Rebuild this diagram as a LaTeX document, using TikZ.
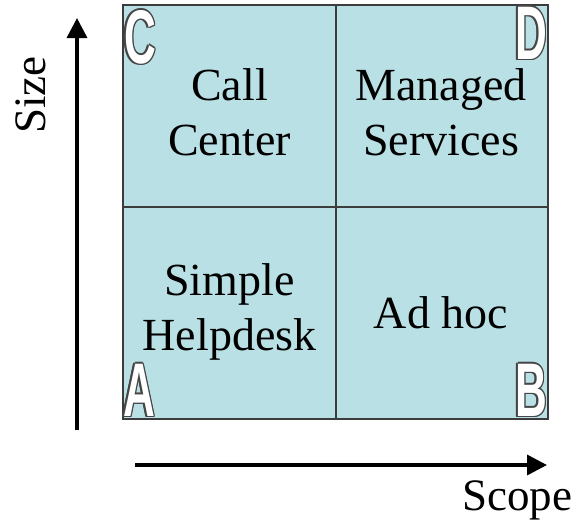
\documentclass[tikz,border=0pt]{standalone}
\usepackage{fontspec}
\setmainfont{Liberation Serif}
\newfontfamily\lettfont{Liberation Sans}
\usetikzlibrary{arrows.meta,calc}
\definecolor{cellfill}{RGB}{185,224,228}
\definecolor{edgegray}{RGB}{60,60,60}
\definecolor{outl}{RGB}{70,70,70}
\tikzset{
  celltext/.style={font=\fontsize{46}{55}\selectfont, align=center, inner sep=0pt},
  axislabel/.style={font=\fontsize{45}{54}\selectfont, inner sep=0pt},
  axisarrow/.style={line width=3.5pt, -{Triangle[width=20pt,length=20pt]}},
  letterbase/.style={font=\lettfont\bfseries\fontsize{76}{76}\selectfont, xscale=0.58, inner sep=0pt},
  lettershadow/.style={letterbase, text=outl},
  letterfront/.style={letterbase, text=white}
}
\newcommand{\cornerletter}[3]{%
  \foreach \dx/\dy in {-1.6/0,1.6/0,0/-1.6,0/1.6,-1.1/-1.1,1.1/1.1,-1.1/1.1,1.1/-1.1}{
    \node[lettershadow] (#1s\dx\dy) at ($(#2)+(\dx pt,\dy pt)$) {#3};
  }
  \node[letterfront] (#1) at (#2) {#3};
}
\begin{document}
\begin{tikzpicture}[x=1pt,y=-1pt]
\useasboundingbox (0,0) rectangle (580,525);
% grid
\draw[edgegray, line width=1.3pt, fill=cellfill] (123,5) rectangle (548,419);
\coordinate (mt) at (336,5);
\coordinate (mb) at (336,419);
\coordinate (ml) at (123,207);
\coordinate (mr) at (548,207);
\draw[edgegray, line width=1.3pt] (mt) -- (mb);
\draw[edgegray, line width=1.3pt] (ml) -- (mr);
% cell texts
\node[celltext] (cc) at (229.5,112) {Call\\Center};
\node[celltext] (ms) at (441,112) {Managed\\Services};
\node[celltext] (sh) at (229.5,312) {Simple\\Helpdesk};
\node[celltext] (ah) at (441,313) {Ad hoc};
% axes
\coordinate (ys) at (77,430);
\coordinate (ye) at (77,18);
\coordinate (xs) at (135,465);
\coordinate (xe) at (547,465);
\draw[axisarrow] (ys) -- (ye);
\draw[axisarrow] (xs) -- (xe);
\node[axislabel, rotate=90, anchor=base] (size) at (45,95) {Size};
\node[axislabel, anchor=base] (scope) at (517,510) {Scope};
% corner letters
\coordinate (pc) at (140,37);
\coordinate (pd) at (531,33);
\coordinate (pa) at (139,390);
\coordinate (pb) at (531,390);
\cornerletter{lc}{pc}{C}
\cornerletter{ld}{pd}{D}
\cornerletter{la}{pa}{A}
\cornerletter{lb}{pb}{B}
\end{tikzpicture}
\end{document}
